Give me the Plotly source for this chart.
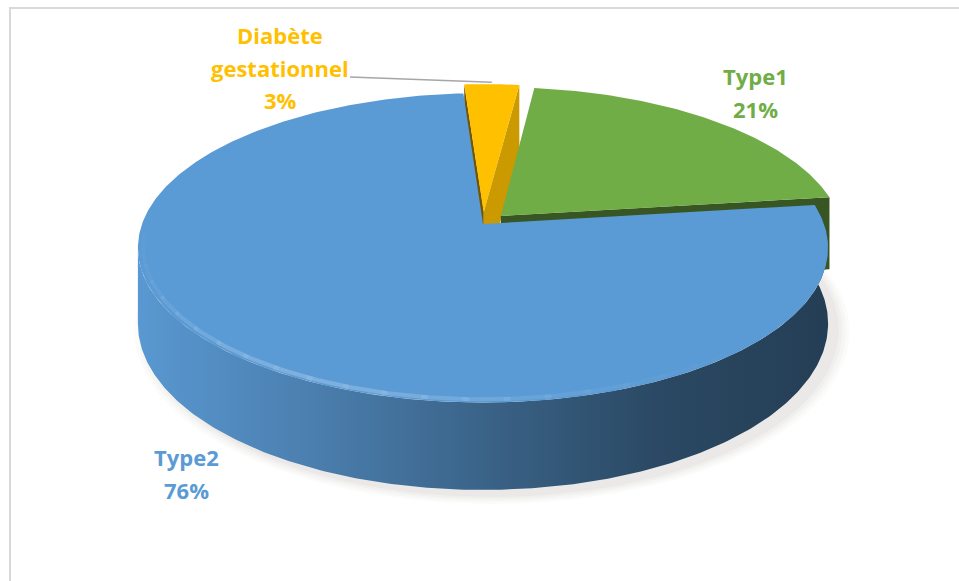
import numpy as np
import plotly.graph_objects as go

# Répartition des types de diabète
categories = ["Type1", "Type2", "Diabète gestationnel"]
percentages = [21, 76, 3]
slice_colors = ["#70ad47", "#5b9bd5", "#ffc000"]
explode = [0.075, 0.0, 0.08]

# Canvas and 3D-pie styling (pixel units)
W, H = 959, 581
CX, CY = 483, 224          # projected centre of the top face
RX, RY = 341, 151          # radii of the top ellipse
DIST = 6.5                 # perspective distance (in disc radii)
DEPTH = 74                 # thickness of the disc
ROTATION = 7               # first slice angle, clockwise from 12 o'clock
FONT = "Open Sans"
FONT_SIZE = 22
LINE_STEP = 32.5
label_anchor = {"Type1": (755, 76), "Type2": (186, 457), "Diabète gestationnel": (280, 35)}
leader_start = (350, 77)


def project(u, v, z=0.0):
    s = DIST / (DIST + v)
    return CX + RX * u * s, CY - RY * v * s + DEPTH * s * z


def hex_rgb(c):
    c = c.lstrip("#")
    return tuple(int(c[i:i + 2], 16) for i in (0, 2, 4))


def shade(c, f):
    r, g, b = hex_rgb(c)
    return "rgb({},{},{})".format(*(max(0, min(255, int(round(k * f)))) for k in (r, g, b)))


def tint(c, f, alpha):
    r, g, b = hex_rgb(c)
    return "rgba({},{},{},{})".format(*(int(round(k + (255 - k) * f)) for k in (r, g, b)), alpha)


def poly_trace(xs, ys, **kw):
    xs = list(xs) + [xs[0]]
    ys = list(ys) + [ys[0]]
    return go.Scatter(x=xs, y=ys, mode="lines", fill="toself", line=dict(width=0),
                      hoverinfo="skip", showlegend=False, **kw)


fig = go.Figure()

# soft shadow below the disc
tt = np.radians(np.linspace(0, 360, 241))
for grow, alpha in [(1.035, 0.018), (1.025, 0.022), (1.015, 0.026), (1.005, 0.03)]:
    pts = [project(grow * np.sin(a), grow * np.cos(a), 1.0) for a in tt]
    fig.add_trace(poly_trace([p[0] + 9 for p in pts], [p[1] + 6 for p in pts],
                             fillcolor=f"rgba(60,40,20,{alpha})"))

total = float(sum(percentages))
starts, ends = [], []
acc = 0.0
for p in percentages:
    starts.append(ROTATION + 360.0 * acc / total)
    acc += p
    ends.append(ROTATION + 360.0 * acc / total)

cam = np.array([0.0, -DIST])
sil = np.degrees(np.arccos(-1.0 / DIST))  # silhouette angle of the side wall


def slice_depth(i):
    mid = np.radians((starts[i] + ends[i]) / 2)
    return np.cos(mid)


order = sorted(range(len(categories)), key=slice_depth, reverse=True)

for i in order:
    t0, t1 = starts[i], ends[i]
    mid = np.radians((t0 + t1) / 2)
    ou, ov = explode[i] * np.sin(mid), explode[i] * np.cos(mid)
    col = slice_colors[i]

    def rim(theta_deg, z=0.0, r=1.0):
        a = np.radians(theta_deg)
        return project(ou + r * np.sin(a), ov + r * np.cos(a), z)

    # radial cut faces
    for ang, sign in ((t0, -1), (t1, 1)):
        a = np.radians(ang)
        normal = sign * np.array([np.cos(a), -np.sin(a)])
        pmid = np.array([ou + 0.5 * np.sin(a), ov + 0.5 * np.cos(a)])
        if np.dot(normal, cam - pmid) <= 0:
            continue
        f = 0.45 + 0.35 * max(0.0, normal[0])
        c0, c1 = project(ou, ov, 0), project(ou, ov, 1)
        r0, r1 = rim(ang, 0), rim(ang, 1)
        fig.add_trace(poly_trace([c0[0], r0[0], r1[0], c1[0]], [c0[1], r0[1], r1[1], c1[1]],
                                 fillcolor=shade(col, f)))

    # outer wall, only for slices reaching the front half
    w0, w1 = max(t0, 60), min(t1, 360 - sil)
    if w1 > w0 and t1 > 90:
        th = np.linspace(w0, w1, 240)
        top = [rim(a, 0) for a in th]
        bot = [rim(a, 1) for a in th][::-1]
        xs = [p[0] for p in top] + [p[0] for p in bot]
        ys = [p[1] for p in top] + [p[1] for p in bot]
        fig.add_trace(poly_trace(xs, ys, fillcolor=shade(col, 0.6),
                                 fillgradient=dict(type="horizontal", colorscale=[
                                     [0.0, shade(col, 0.98)], [0.25, shade(col, 0.82)],
                                     [0.5, shade(col, 0.64)], [0.75, shade(col, 0.47)],
                                     [1.0, shade(col, 0.40)]])))

    # top face
    th = np.linspace(t0, t1, max(8, int((t1 - t0) * 1.5)))
    pts = [project(ou, ov, 0)] + [rim(a, 0) for a in th]
    fig.add_trace(poly_trace([p[0] for p in pts], [p[1] for p in pts], fillcolor=col))

    # soft bevel highlight along the front rim
    for a0 in range(140, 262, 6):
        b0, b1 = max(t0, a0), min(t1, a0 + 7)
        if b1 <= b0:
            continue
        strength = np.exp(-((a0 + 3 - 205) / 35.0) ** 2)
        th = np.linspace(b0, b1, 8)
        pts = [rim(a, 0, 0.985) for a in th]
        fig.add_trace(go.Scatter(x=[p[0] for p in pts], y=[p[1] for p in pts], mode="lines",
                                 line=dict(color=tint(col, 0.3, round(0.7 * strength, 3)), width=4),
                                 hoverinfo="skip", showlegend=False))

# leader line to the small slice
gi = categories.index("Diabète gestationnel")
ga = np.radians((starts[gi] + ends[gi]) / 2)
gx, gy = project((1 + explode[gi]) * np.sin(ga), (1 + explode[gi]) * np.cos(ga), 0)
fig.add_trace(go.Scatter(x=[leader_start[0], gx], y=[leader_start[1], gy - 2], mode="lines",
                         line=dict(color="#a6a6a6", width=1.5), hoverinfo="skip", showlegend=False))

# data labels
annotations = []
for name, pct, col in zip(categories, percentages, slice_colors):
    lines = name.split(" ") + [f"{pct}%"]
    lx, ly = label_anchor[name]
    for k, txt in enumerate(lines):
        annotations.append(dict(x=lx, y=ly + k * LINE_STEP, xref="x", yref="y", text=f"<b>{txt}</b>",
                                showarrow=False, xanchor="center", yanchor="middle",
                                font=dict(family=FONT, size=FONT_SIZE, color=col)))

fig.update_layout(
    width=W, height=H,
    margin=dict(l=0, r=0, t=0, b=0),
    paper_bgcolor="white", plot_bgcolor="white",
    xaxis=dict(range=[0, W], visible=False, fixedrange=True),
    yaxis=dict(range=[H, 0], visible=False, fixedrange=True),
    annotations=annotations,
    shapes=[dict(type="rect", xref="x", yref="y", x0=10, y0=8, x1=W + 20, y1=H + 20,
                 line=dict(color="#d9d9d9", width=2), fillcolor="rgba(0,0,0,0)")],
    showlegend=False,
)

fig.write_html("out.html")
